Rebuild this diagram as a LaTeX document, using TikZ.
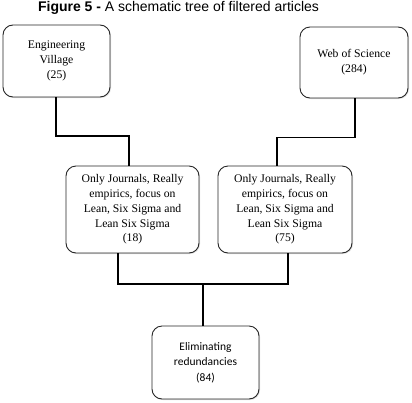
\documentclass[tikz,border=0pt]{standalone}
\usepackage{fontspec}
\setmainfont{Liberation Serif}
\newfontfamily\titlefont{Liberation Sans}
\newfontfamily\bodyfont{Carlito}
\usepackage{tikz}
\usetikzlibrary{calc,positioning,shadows}

\tikzset{
  treebox/.style={draw=black!85, line width=0.9pt, rounded corners=10pt, fill=white,
    align=center, inner sep=2pt, font=\fontsize{11.7}{14.8}\selectfont,
    drop shadow={shadow xshift=1pt, shadow yshift=-1pt, opacity=0.25}},
  link/.style={line width=1.8pt, black}
}

\begin{document}
\begin{tikzpicture}[x=1pt,y=-1pt]
	\useasboundingbox (0,0) rectangle (412,402);
	\node (title) at (178.5,8) {\titlefont\fontsize{14}{16}\selectfont\textbf{Figure 5 -} A schematic tree of filtered articles};
	% sources
	\node[treebox, minimum width=107pt, minimum height=72pt] (ev) at (56.5,61) {Engineering\\Village\\(25)};
	\node[treebox, minimum width=108pt, minimum height=71pt] (wos) at (354,62.5) {Web of Science\\(284)};
	% filters
	\node[treebox, minimum width=133pt, minimum height=87pt] (lm) at (132.5,209.5) {Only Journals, Really\\empirics, focus on\\Lean, Six Sigma and\\Lean Six Sigma\\(18)};
	\node[treebox, minimum width=134pt, minimum height=87pt] (rm) at (285,209.5) {Only Journals, Really\\empirics, focus on\\Lean, Six Sigma and\\Lean Six Sigma\\(75)};
	% result
	\node[treebox, minimum width=107pt, minimum height=73pt, font=\bodyfont\fontsize{11.5}{15.5}\selectfont] (res) at (205.5,362.5) {Eliminating\\redundancies\\(84)};
	\coordinate (jl) at (56,136);
	\coordinate (jr) at (355,137.5);
	\coordinate (jb) at (203,284);
	\draw[link] ([xshift=-0.5pt]ev.south) -- (jl) -| ([xshift=-3.5pt]lm.north);
	\draw[link] ([xshift=1pt]wos.south) -- (jr) -| ([xshift=-8pt]rm.north);
	\draw[link] ([xshift=-14.5pt]lm.south) |- (jb) -| ([xshift=3pt]rm.south);
	\draw[link] (jb) -- ([xshift=-2.5pt]res.north);
\end{tikzpicture}
\end{document}
